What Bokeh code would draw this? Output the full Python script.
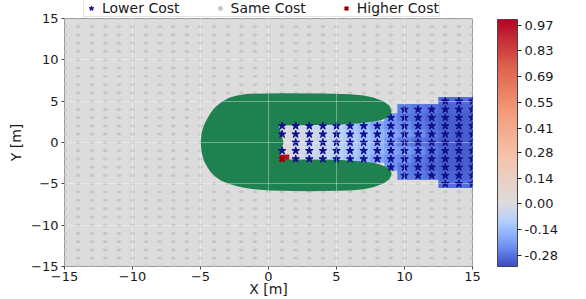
import numpy as np
from bokeh.plotting import figure
from bokeh.layouts import column
from bokeh.models import (LinearColorMapper, ColorBar, FixedTicker, Legend,
                          LegendItem)
from bokeh.embed import file_html
from bokeh.resources import INLINE

nan = float("nan")

# ---------------- data ----------------
x_ticks = [-15, -10, -5, 0, 5, 10, 15]
x_tick_labels = ["−15", "−10", "−5", "0", "5", "10", "15"]
y_ticks = [-15, -10, -5, 0, 5, 10, 15]
y_tick_labels = ["−15", "−10", "−5", "0", "5", "10", "15"]

cbar_ticks = [-0.28, -0.14, 0.0, 0.14, 0.28, 0.41, 0.55, 0.69, 0.83, 0.97]
cbar_tick_labels = ["-0.28", "-0.14", "0.00", "0.14", "0.28", "0.41",
                    "0.55", "0.69", "0.83", "0.97"]
cbar_low = -0.34
cbar_high = 1.0

legend_labels = ["Lower Cost", "Same Cost", "Higher Cost"]

# sample grid (same-cost points everywhere else)
grid_values = list(range(-15, 16))

# cost-difference field at the sample points x = 1..15, y = -5..5
heat_x = list(range(1, 16))
heat_y = list(range(-5, 6))
heat_rows = [
    # y = -5
    [nan] * 12 + [-0.29, -0.29, -0.29],
    # y = -4
    [nan] * 9 + [-0.26, -0.27, -0.28, -0.30, -0.30, -0.30],
    # y = -3
    [nan] * 8 + [-0.22, -0.27, -0.28, -0.30, -0.31, -0.31, -0.31],
    # y = -2
    [0.97, -0.01, -0.04, -0.06, -0.08, -0.11, -0.15, -0.19, -0.22, -0.24, -0.27, -0.29, -0.31, -0.31, -0.31],
    # y = -1
    [0.05, -0.02, -0.03, -0.05, -0.07, -0.10, -0.13, -0.16, -0.19, -0.21, -0.24, -0.28, -0.30, -0.31, -0.31],
    # y = 0
    [nan, -0.02, -0.03, -0.05, -0.07, -0.10, -0.13, -0.16, -0.21, -0.26, -0.28, -0.29, -0.31, -0.31, -0.31],
    # y = 1
    [-0.01, -0.02, -0.03, -0.05, -0.07, -0.10, -0.13, -0.16, -0.19, -0.21, -0.24, -0.28, -0.30, -0.31, -0.31],
    # y = 2
    [-0.02, -0.02, -0.04, -0.06, -0.08, -0.11, -0.15, -0.19, -0.22, -0.24, -0.27, -0.29, -0.31, -0.31, -0.31],
    # y = 3
    [nan] * 8 + [-0.22, -0.27, -0.28, -0.30, -0.31, -0.31, -0.31],
    # y = 4
    [nan] * 9 + [-0.26, -0.27, -0.28, -0.30, -0.30, -0.30],
    # y = 5
    [nan] * 12 + [-0.29, -0.29, -0.29],
]

# higher-cost sample points
higher_x = [1]
higher_y = [-2]

# obstacle outline (C-shaped)
obstacle_x = [9.05, 8.9, 8.45, 7.7, 7.0, 6.0, 4.0, 1.0, -1.5, -2.3, -2.9, -3.45, -3.9,
              -4.25, -4.5, -4.75, -4.9, -5.0, -4.9, -4.75, -4.5, -4.25, -3.9, -3.45,
              -2.9, -2.3, -1.7, -0.8, 0.0, 3.0, 6.0, 7.0, 7.7, 8.45, 8.9, 9.05,
              9.0, 8.8, 8.2, 7.7, 6.5, 5.0, 2.0, 0.76, 0.95, 1.1, 0.95, 0.76,
              2.0, 5.0, 6.5, 7.7, 8.2, 8.8, 9.0]
obstacle_y = [3.85, 4.45, 5.0, 5.45, 5.7, 5.85, 5.93, 5.95, 5.9, 5.7, 5.4, 4.9, 4.3,
              3.6, 2.9, 2.1, 1.3, 0.0, -1.3, -2.2, -2.95, -3.6, -4.15, -4.65,
              -5.0, -5.3, -5.5, -5.7, -5.8, -5.9, -5.82, -5.65, -5.4, -4.95, -4.45, -3.8,
              -3.35, -3.05, -2.65, -2.45, -2.25, -2.1, -2.05, -2.05, -1.0, 0.0, 1.0, 2.1,
              2.1, 2.15, 2.3, 2.55, 2.65, 3.05, 3.4]

# ---------------- derived point sets ----------------
heat = np.array(heat_rows, dtype=float)
star_x, star_y = [], []
hset = set(zip(higher_x, higher_y))
for j, yy in enumerate(heat_y):
    for i, xx in enumerate(heat_x):
        if not np.isnan(heat[j, i]) and (xx, yy) not in hset:
            star_x.append(xx)
            star_y.append(yy)
taken = set(zip(star_x, star_y)) | hset
same_x, same_y = [], []
for xx in grid_values:
    for yy in grid_values:
        if (xx, yy) not in taken:
            same_x.append(xx)
            same_y.append(yy)

# ---------------- two-slope coolwarm palette ----------------
cw_t = [0.0, 0.125, 0.25, 0.375, 0.5, 0.625, 0.75, 0.875, 1.0]
cw_rgb = np.array([(59, 76, 192), (98, 130, 234), (141, 176, 254), (184, 208, 249),
                   (221, 220, 220), (245, 196, 173), (244, 154, 123), (222, 96, 77),
                   (180, 4, 38)], dtype=float)
n_col = 256
vals = cbar_low + (np.arange(n_col) + 0.5) / n_col * (cbar_high - cbar_low)
tt = np.where(vals < 0, 0.5 * (vals - cbar_low) / (0 - cbar_low), 0.5 + 0.5 * vals / cbar_high)
palette = []
for t in tt:
    r = np.interp(t, cw_t, cw_rgb[:, 0])
    g = np.interp(t, cw_t, cw_rgb[:, 1])
    b = np.interp(t, cw_t, cw_rgb[:, 2])
    palette.append("#%02x%02x%02x" % (int(round(r)), int(round(g)), int(round(b))))

mapper = LinearColorMapper(palette=palette, low=cbar_low, high=cbar_high,
                           nan_color="rgba(0, 0, 0, 0)")

FONT = "DejaVu Sans"
STAR_COLOR = "#10108c"
SAME_COLOR = "#c6c6c6"
HIGH_COLOR = "#a00000"

# ---------------- legend strip (own small figure above the plot) ----------------
lf = figure(width=586, height=17, x_range=(-15, 15), y_range=(-15, 15),
            output_backend="svg", toolbar_location=None, min_border=0,
            x_axis_location=None, y_axis_location=None)
lf.outline_line_color = None
lf.background_fill_color = "white"
lf.border_fill_color = "white"
lf.grid.visible = False
k_star = lf.scatter(x=star_x, y=star_y, marker="star", size=8,
                    fill_color=STAR_COLOR, line_color=STAR_COLOR, visible=False)
k_same = lf.scatter(x=same_x, y=same_y, marker="circle", size=8,
                    fill_color=SAME_COLOR, line_color=None, visible=False)
k_high = lf.scatter(x=higher_x, y=higher_y, marker="x", size=7,
                    line_color=HIGH_COLOR, line_width=2.5, visible=False)
legend = Legend(items=[LegendItem(label=legend_labels[0], renderers=[k_star]),
                       LegendItem(label=legend_labels[1], renderers=[k_same]),
                       LegendItem(label=legend_labels[2], renderers=[k_high])],
                orientation="horizontal", location=(19, 0), margin=0,
                padding=0, spacing=33, glyph_width=14, glyph_height=12,
                label_standoff=4, label_height=12,
                label_text_font=FONT, label_text_font_size="14px",
                label_text_color="#1a1a1a",
                inactive_fill_alpha=0.0,
                border_line_color="#cccccc", background_fill_color="white",
                background_fill_alpha=1.0)
lf.add_layout(legend, "center")

# ---------------- main figure ----------------
p = figure(width=586, height=291, x_range=(-15, 15), y_range=(-15, 15),
           output_backend="svg", toolbar_location=None,
           min_border_left=64, min_border_right=114, min_border_top=10,
           min_border_bottom=33, margin=(-9, 0, 0, 0))
p.background_fill_color = "#dcdcdc"
p.border_fill_alpha = 0.0
p.outline_line_color = "#9a9a9a"
p.outline_line_width = 1

p.ellipse(x=same_x, y=same_y, width=0.36, height=0.36,
          fill_color=SAME_COLOR, line_color=None)
p.image(image=[heat], x=heat_x[0] - 0.5, y=heat_y[0] - 0.5,
        dw=len(heat_x), dh=len(heat_y), color_mapper=mapper)
p.patch(x=obstacle_x, y=obstacle_y, fill_color="#1f8150", line_color=None)
p.scatter(x=star_x, y=star_y, marker="star", size=8,
          fill_color=STAR_COLOR, line_color=STAR_COLOR)
p.scatter(x=higher_x, y=higher_y, marker="x", size=7,
          line_color=HIGH_COLOR, line_width=2.5)

for ax, ticks, labels in ((p.xaxis[0], x_ticks, x_tick_labels),
                          (p.yaxis[0], y_ticks, y_tick_labels)):
    ax.ticker = FixedTicker(ticks=ticks, minor_ticks=[])
    ax.major_label_overrides = {t: l for t, l in zip(ticks, labels)}
    ax.axis_line_color = None
    ax.major_tick_out = 3
    ax.major_tick_in = 0
    ax.major_tick_line_color = "#444444"
    ax.minor_tick_line_color = None
    ax.major_label_text_font = FONT
    ax.major_label_text_font_size = "13px"
    ax.major_label_text_color = "#1a1a1a"
    ax.axis_label_text_font = FONT
    ax.axis_label_text_font_size = "14px"
    ax.axis_label_text_font_style = "normal"
    ax.axis_label_text_color = "#1a1a1a"

p.xaxis.axis_label = "X [m]"
p.yaxis.axis_label = "Y [m]"
p.xaxis.major_label_standoff = 2
p.xaxis.axis_label_standoff = -3
p.yaxis.major_label_standoff = 3
p.yaxis.axis_label_standoff = 4

p.grid.grid_line_color = "white"
p.grid.grid_line_alpha = 0.35
p.grid.level = "overlay"
p.xgrid.ticker = FixedTicker(ticks=x_ticks)
p.ygrid.ticker = FixedTicker(ticks=y_ticks)

cbar = ColorBar(color_mapper=mapper, ticker=FixedTicker(ticks=cbar_ticks),
                major_label_overrides={t: l for t, l in zip(cbar_ticks, cbar_tick_labels)},
                width=20, height=247, location=(433, 0), padding=0, margin=0,
                border_line_color=None, background_fill_alpha=0,
                bar_line_color="#444444", major_tick_out=4, major_tick_in=0,
                major_tick_line_color="#222222", minor_tick_line_color=None,
                label_standoff=3, major_label_text_font=FONT,
                major_label_text_font_size="13px", major_label_text_color="#1a1a1a")
p.add_layout(cbar, "center")

layout = column(lf, p, spacing=0)
open("out.html", "w").write(file_html(layout, INLINE))
